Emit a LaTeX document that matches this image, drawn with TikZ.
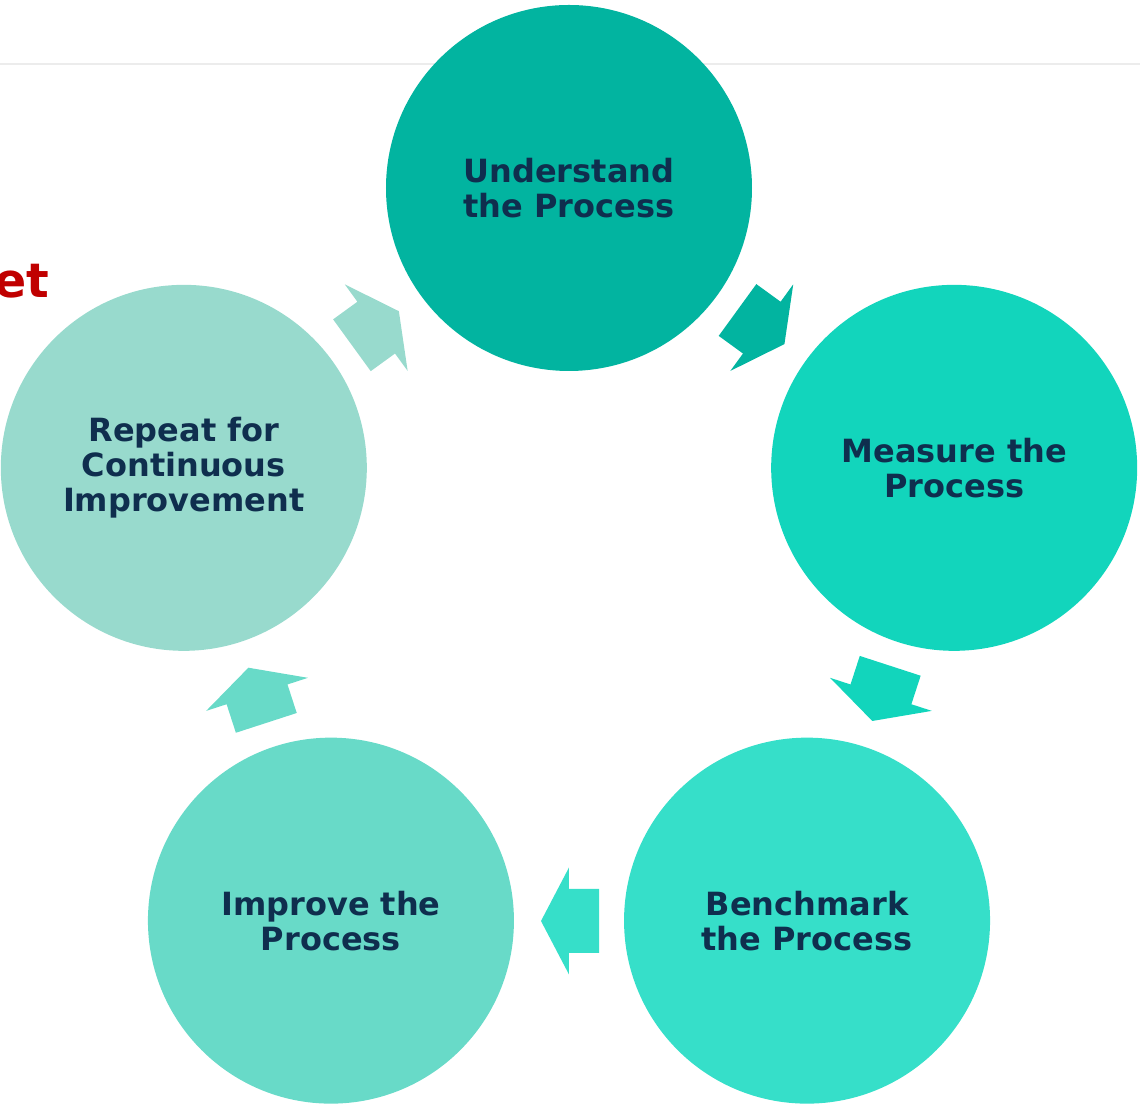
\documentclass[tikz,border=0pt]{standalone}
\usepackage{fontspec}
\setmainfont{DejaVu Sans}

\definecolor{stepA}{HTML}{02B4A0}
\definecolor{stepB}{HTML}{12D5BC}
\definecolor{stepC}{HTML}{36DFC9}
\definecolor{stepD}{HTML}{68DAC8}
\definecolor{stepE}{HTML}{98DACD}
\definecolor{navy}{HTML}{0F2E4E}
\definecolor{titlered}{HTML}{C00000}

\begin{document}
\begin{tikzpicture}[
  stage/.style={circle,minimum size=7.32cm,inner sep=0pt,align=center,text=navy,
    font=\bfseries\fontsize{18.2}{20}\selectfont},
  pics/flow/.style={code={
    \fill (-0.6,0.64) -- (0,0.64) -- (0,1.07) -- (0.56,0) -- (0,-1.07) -- (0,-0.64) -- (-0.6,-0.64) -- cycle;
  }}]
  \useasboundingbox (-11.38,-10.32) rectangle (11.42,11.86);
  % rule under the header
  \draw[line width=1.2pt,gray!15] (-11.38,10.58) -- (11.42,10.58);
  \node[anchor=base east,inner sep=0pt,text=titlered,font=\bfseries\fontsize{27}{30}\selectfont] (title) at (-10.38,5.9) {et};

  % the five steps, round the pentagon
  \node[stage,fill=stepA] (understand) at (90:8.1) {Understand\\the Process};
  \node[stage,fill=stepB] (measure) at (18:8.1) {Measure the\\Process};
  \node[stage,fill=stepC] (benchmark) at (-54:8.1) {Benchmark\\the Process};
  \node[stage,fill=stepD] (improve) at (234:8.1) {Improve the\\Process};
  \node[stage,fill=stepE] (repeat) at (162:8.1) {Repeat for\\Continuous\\Improvement};

  % block arrows between the steps
  \pic[fill=stepA,rotate=-36] (toMeasure) at (54:6.56) {flow};
  \pic[fill=stepB,rotate=-108] (toBenchmark) at (-18:6.56) {flow};
  \pic[fill=stepC,rotate=180] (toImprove) at (-90:6.56) {flow};
  \pic[fill=stepD,rotate=108] (toRepeat) at (198:6.56) {flow};
  \pic[fill=stepE,rotate=36] (toUnderstand) at (126:6.56) {flow};
\end{tikzpicture}
\end{document}
